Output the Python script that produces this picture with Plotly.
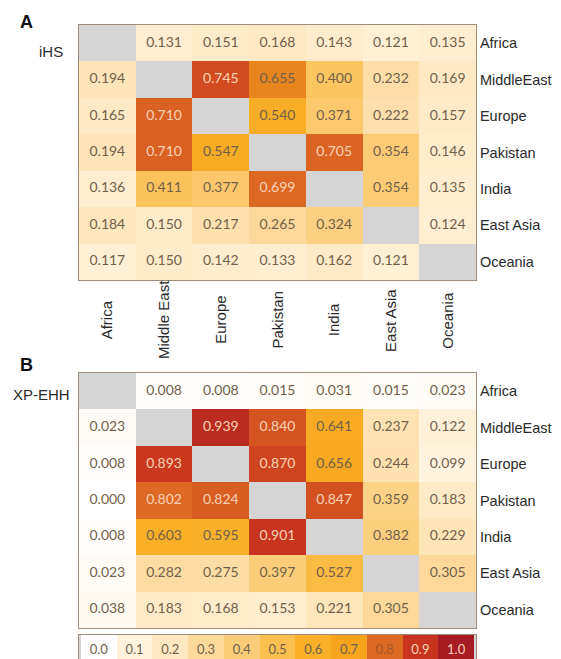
import plotly.graph_objects as go

regions = ["Africa", "Middle East", "Europe", "Pakistan", "India", "East Asia", "Oceania"]
row_labels = ["Africa", "MiddleEast", "Europe", "Pakistan", "India", "East Asia", "Oceania"]

N = None
ihs = [
    [N, 0.131, 0.151, 0.168, 0.143, 0.121, 0.135],
    [0.194, N, 0.745, 0.655, 0.400, 0.232, 0.169],
    [0.165, 0.710, N, 0.540, 0.371, 0.222, 0.157],
    [0.194, 0.710, 0.547, N, 0.705, 0.354, 0.146],
    [0.136, 0.411, 0.377, 0.699, N, 0.354, 0.135],
    [0.184, 0.150, 0.217, 0.265, 0.324, N, 0.124],
    [0.117, 0.150, 0.142, 0.133, 0.162, 0.121, N],
]
xpehh = [
    [N, 0.008, 0.008, 0.015, 0.031, 0.015, 0.023],
    [0.023, N, 0.939, 0.840, 0.641, 0.237, 0.122],
    [0.008, 0.893, N, 0.870, 0.656, 0.244, 0.099],
    [0.000, 0.802, 0.824, N, 0.847, 0.359, 0.183],
    [0.008, 0.603, 0.595, 0.901, N, 0.382, 0.229],
    [0.023, 0.282, 0.275, 0.397, 0.527, N, 0.305],
    [0.038, 0.183, 0.168, 0.153, 0.221, 0.305, N],
]
legend_vals = [0.0, 0.1, 0.2, 0.3, 0.4, 0.5, 0.6, 0.7, 0.8, 0.9, 1.0]

colorscale = [
    [0.0, "#ffffff"], [0.1, "#fff3de"], [0.2, "#fee8c2"], [0.3, "#fdd99c"],
    [0.4, "#fccd78"], [0.5, "#fbbf50"], [0.6, "#f9af28"], [0.7, "#f7a41c"],
    [0.8, "#dd6a22"], [0.9, "#c7341f"], [1.0, "#a61c22"],
]
IHS_ZMAX = 0.87
DARK = "#725f4a"
LIGHT = "#f9d2b6"
BORDER = "#9b8d7a"
GREY = "#d5d5d5"
SANS = "Liberation Sans, Arial, sans-serif"
NUMF = "Lato, sans-serif"

def px_x(p):
    return p / 561.0

def px_y(p):
    return 1 - p / 659.0

fig = go.Figure()

def add_panel(z, zmax, xa, ya):
    fig.add_trace(go.Heatmap(
        z=z, x=regions, y=regions, colorscale=colorscale, zmin=0, zmax=zmax,
        showscale=False, xaxis=xa, yaxis=ya, hoverongaps=False, xgap=0, ygap=0))
    xs, ys, ts, cs = [], [], [], []
    for i, r in enumerate(regions):
        for j, c in enumerate(regions):
            v = z[i][j]
            if v is None:
                continue
            xs.append(c); ys.append(r); ts.append(f"{v:.3f}")
            cs.append(LIGHT if v / zmax > 0.801 else DARK)
    fig.add_trace(go.Scatter(
        x=xs, y=ys, text=ts, mode="text", xaxis=xa, yaxis=ya,
        textfont=dict(family=NUMF, size=14, color=cs),
        hoverinfo="skip", showlegend=False))

add_panel(ihs, IHS_ZMAX, "x", "y")
add_panel(xpehh, 1.0, "x2", "y2")

leg_labels = [f"{v:.1f}" for v in legend_vals]
fig.add_trace(go.Heatmap(
    z=[legend_vals], x=leg_labels, y=["k"], colorscale=colorscale, zmin=0, zmax=1,
    showscale=False, xaxis="x3", yaxis="y3", xgap=0))
fig.add_trace(go.Scatter(
    x=leg_labels, y=["k"] * len(leg_labels), text=leg_labels, mode="text",
    xaxis="x3", yaxis="y3",
    textfont=dict(family=NUMF, size=13,
                  color=[LIGHT if v > 0.801 else ("#a8562a" if v > 0.75 else DARK) for v in legend_vals]),
    hoverinfo="skip", showlegend=False))

xdom = [px_x(71), px_x(468)]
ax_common = dict(showline=True, linecolor=BORDER, linewidth=1, mirror=True,
                 showgrid=False, zeroline=False, ticks="")
tickf = dict(family=SANS, size=14.5, color="#2a2a2a")
fig.update_layout(
    width=561, height=659, margin=dict(l=0, r=0, t=0, b=0),
    paper_bgcolor="white", plot_bgcolor=GREY, showlegend=False,
    xaxis=dict(domain=xdom, anchor="y", showticklabels=False,
               categoryorder="array", categoryarray=regions, **ax_common),
    yaxis=dict(domain=[px_y(272), px_y(17)], anchor="x", side="right",
               autorange="reversed", categoryorder="array", categoryarray=regions,
               tickvals=regions, ticktext=row_labels, ticklabelstandoff=0,
               tickfont=tickf, **ax_common),
    xaxis2=dict(domain=xdom, anchor="y2", showticklabels=False,
                categoryorder="array", categoryarray=regions, **ax_common),
    yaxis2=dict(domain=[px_y(620), px_y(365)], anchor="x2", side="right",
                autorange="reversed", categoryorder="array", categoryarray=regions,
                tickvals=regions, ticktext=row_labels, ticklabelstandoff=0,
                tickfont=tickf, **ax_common),
    xaxis3=dict(domain=xdom, anchor="y3", showticklabels=False, **ax_common),
    yaxis3=dict(domain=[px_y(658), px_y(627)], anchor="x3", showticklabels=False, **ax_common),
)

annos = []
for r in regions:
    annos.append(dict(x=r, xref="x", y=px_y(312), yref="paper", text=r, textangle=-90,
                      showarrow=False, xanchor="center", yanchor="middle",
                      font=dict(family=SANS, size=15, color="#2a2a2a")))
annos += [
    dict(x=px_x(10), y=px_y(14), xref="paper", yref="paper", text="<b>A</b>", showarrow=False,
         xanchor="left", yanchor="middle", font=dict(family=SANS, size=18, color="#111")),
    dict(x=px_x(10), y=px_y(357), xref="paper", yref="paper", text="<b>B</b>", showarrow=False,
         xanchor="left", yanchor="middle", font=dict(family=SANS, size=18, color="#111")),
    dict(x=px_x(57), y=px_y(43), xref="paper", yref="paper", text="iHS", showarrow=False,
         xanchor="right", yanchor="middle", font=dict(family=SANS, size=15, color="#2a2a2a")),
    dict(x=px_x(64), y=px_y(386), xref="paper", yref="paper", text="XP-EHH", showarrow=False,
         xanchor="right", yanchor="middle", font=dict(family=SANS, size=15, color="#2a2a2a")),
]
fig.update_layout(annotations=annos)

fig.write_html("out.html")
